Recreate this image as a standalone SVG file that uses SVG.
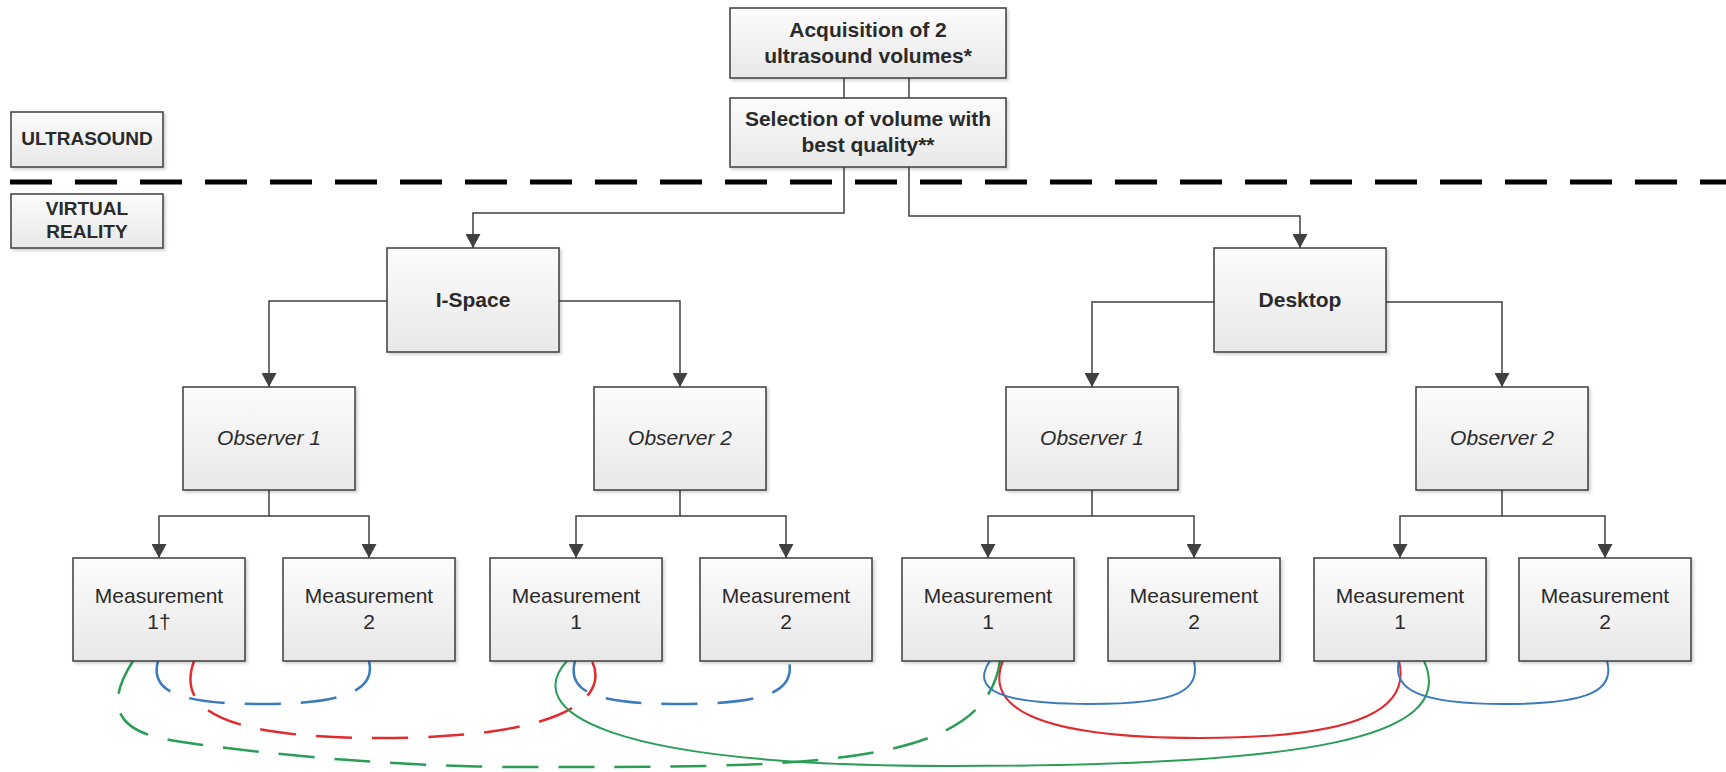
<svg xmlns="http://www.w3.org/2000/svg" width="1726" height="772" viewBox="0 0 1726 772">
<defs>
<linearGradient id="boxfill" x1="0" y1="0" x2="0" y2="1">
<stop offset="0" stop-color="#fcfcfc"/>
<stop offset="1" stop-color="#e8e8e8"/>
</linearGradient>
<filter id="shadow" x="-10%" y="-10%" width="130%" height="130%">
<feDropShadow dx="2" dy="2" stdDeviation="1.5" flood-color="#000" flood-opacity="0.18"/>
</filter>
<marker id="arr" viewBox="0 0 14 15" refX="14" refY="7.5" markerWidth="14" markerHeight="15" markerUnits="userSpaceOnUse" orient="auto">
<path d="M0,0 L14,7.5 L0,15 z" fill="#404040"/>
</marker>
<style>
.box{fill:url(#boxfill);stroke:#3c3c3c;stroke-width:1.5;filter:url(#shadow)}
.t{font-family:"Liberation Sans",Arial,sans-serif;font-size:21px;fill:#2a2a2a;text-anchor:middle}
.b{font-weight:bold}
.i{font-style:italic}
.s{font-size:19px}
.conn{fill:none;stroke:#404040;stroke-width:1.5}
.arrow{marker-end:url(#arr)}
.sep{fill:none;stroke:#000;stroke-width:5;stroke-dasharray:42 23}
.cv{fill:none;stroke-width:2}
.dash{stroke-width:2.5;stroke-dasharray:36 20}
.blue{stroke:#3b7bbd}
.red{stroke:#e02b2f}
.green{stroke:#2a9d56}
</style>
</defs>
<rect width="1726" height="772" fill="#fff"/>
<g id="connectors">
<line class="sep" x1="10" y1="182" x2="1726" y2="182"/>
<path class="conn" d="M844,78 V98"/>
<path class="conn" d="M909,78 V98"/>
<path class="conn arrow" d="M844,167 V213 H473 V248"/>
<path class="conn arrow" d="M909,167 V216 H1300 V248"/>
<path class="conn arrow" d="M387,301 H269 V387"/>
<path class="conn arrow" d="M559,301 H680 V387"/>
<path class="conn arrow" d="M1214,302 H1092 V387"/>
<path class="conn arrow" d="M1386,302 H1502 V387"/>
<path class="conn arrow" d="M269,490 V516 H159 V558"/>
<path class="conn arrow" d="M269,516 H369 V558"/>
<path class="conn arrow" d="M680,490 V516 H576 V558"/>
<path class="conn arrow" d="M680,516 H786 V558"/>
<path class="conn arrow" d="M1092,490 V516 H988 V558"/>
<path class="conn arrow" d="M1092,516 H1194 V558"/>
<path class="conn arrow" d="M1502,490 V516 H1400 V558"/>
<path class="conn arrow" d="M1502,516 H1605 V558"/>
<path class="cv dash green" d="M133,661 C108,700 110,730 170,740 S380,767 520,767 C800,767 985,770 1000,661"/>
<path class="cv dash red" d="M194,661 C180,700 200,738 380,738 C560,738 610,700 592,661"/>
<path class="cv dash blue" d="M158,661 C150,690 175,704 262,704 C345,704 376,690 369,661"/>
<path class="cv dash blue" d="M575,661 C567,690 590,704 680,704 C770,704 795,690 789,661"/>
<path class="cv green" d="M567,661 C522,710 600,766 950,766 C1300,766 1460,740 1424,661"/>
<path class="cv red" d="M1003,661 C985,705 1030,738 1200,738 C1370,738 1410,705 1399,661"/>
<path class="cv blue" d="M990,661 C970,690 1000,704 1090,704 C1180,704 1200,690 1194,661"/>
<path class="cv blue" d="M1399,661 C1392,690 1420,704 1505,704 C1590,704 1615,690 1607,661"/>
</g>
<g id="acquisition">
<rect class="box" x="730" y="8" width="276" height="70"/>
<text class="t b" x="868" y="37">Acquisition of 2</text>
<text class="t b" x="868" y="63">ultrasound volumes*</text>
</g>
<g id="selection">
<rect class="box" x="730" y="98" width="276" height="69"/>
<text class="t b" x="868" y="126">Selection of volume with</text>
<text class="t b" x="868" y="152">best quality**</text>
</g>
<g id="ultrasound">
<rect class="box" x="11" y="112" width="152" height="55"/>
<text class="t b s" x="87" y="145">ULTRASOUND</text>
</g>
<g id="virtual-reality">
<rect class="box" x="11" y="194" width="152" height="54"/>
<text class="t b s" x="87" y="215">VIRTUAL</text>
<text class="t b s" x="87" y="238">REALITY</text>
</g>
<g id="ispace">
<rect class="box" x="387" y="248" width="172" height="104"/>
<text class="t b" x="473" y="307">I-Space</text>
</g>
<g id="desktop">
<rect class="box" x="1214" y="248" width="172" height="104"/>
<text class="t b" x="1300" y="307">Desktop</text>
</g>
<g id="ispace-observer1">
<rect class="box" x="183" y="387" width="172" height="103"/>
<text class="t i" x="269" y="445">Observer 1</text>
</g>
<g id="ispace-observer2">
<rect class="box" x="594" y="387" width="172" height="103"/>
<text class="t i" x="680" y="445">Observer 2</text>
</g>
<g id="desktop-observer1">
<rect class="box" x="1006" y="387" width="172" height="103"/>
<text class="t i" x="1092" y="445">Observer 1</text>
</g>
<g id="desktop-observer2">
<rect class="box" x="1416" y="387" width="172" height="103"/>
<text class="t i" x="1502" y="445">Observer 2</text>
</g>
<g id="ispace-o1-m1">
<rect class="box" x="73" y="558" width="172" height="103"/>
<text class="t" x="159" y="603">Measurement</text>
<text class="t" x="159" y="629">1†</text>
</g>
<g id="ispace-o1-m2">
<rect class="box" x="283" y="558" width="172" height="103"/>
<text class="t" x="369" y="603">Measurement</text>
<text class="t" x="369" y="629">2</text>
</g>
<g id="ispace-o2-m1">
<rect class="box" x="490" y="558" width="172" height="103"/>
<text class="t" x="576" y="603">Measurement</text>
<text class="t" x="576" y="629">1</text>
</g>
<g id="ispace-o2-m2">
<rect class="box" x="700" y="558" width="172" height="103"/>
<text class="t" x="786" y="603">Measurement</text>
<text class="t" x="786" y="629">2</text>
</g>
<g id="desktop-o1-m1">
<rect class="box" x="902" y="558" width="172" height="103"/>
<text class="t" x="988" y="603">Measurement</text>
<text class="t" x="988" y="629">1</text>
</g>
<g id="desktop-o1-m2">
<rect class="box" x="1108" y="558" width="172" height="103"/>
<text class="t" x="1194" y="603">Measurement</text>
<text class="t" x="1194" y="629">2</text>
</g>
<g id="desktop-o2-m1">
<rect class="box" x="1314" y="558" width="172" height="103"/>
<text class="t" x="1400" y="603">Measurement</text>
<text class="t" x="1400" y="629">1</text>
</g>
<g id="desktop-o2-m2">
<rect class="box" x="1519" y="558" width="172" height="103"/>
<text class="t" x="1605" y="603">Measurement</text>
<text class="t" x="1605" y="629">2</text>
</g>
</svg>
